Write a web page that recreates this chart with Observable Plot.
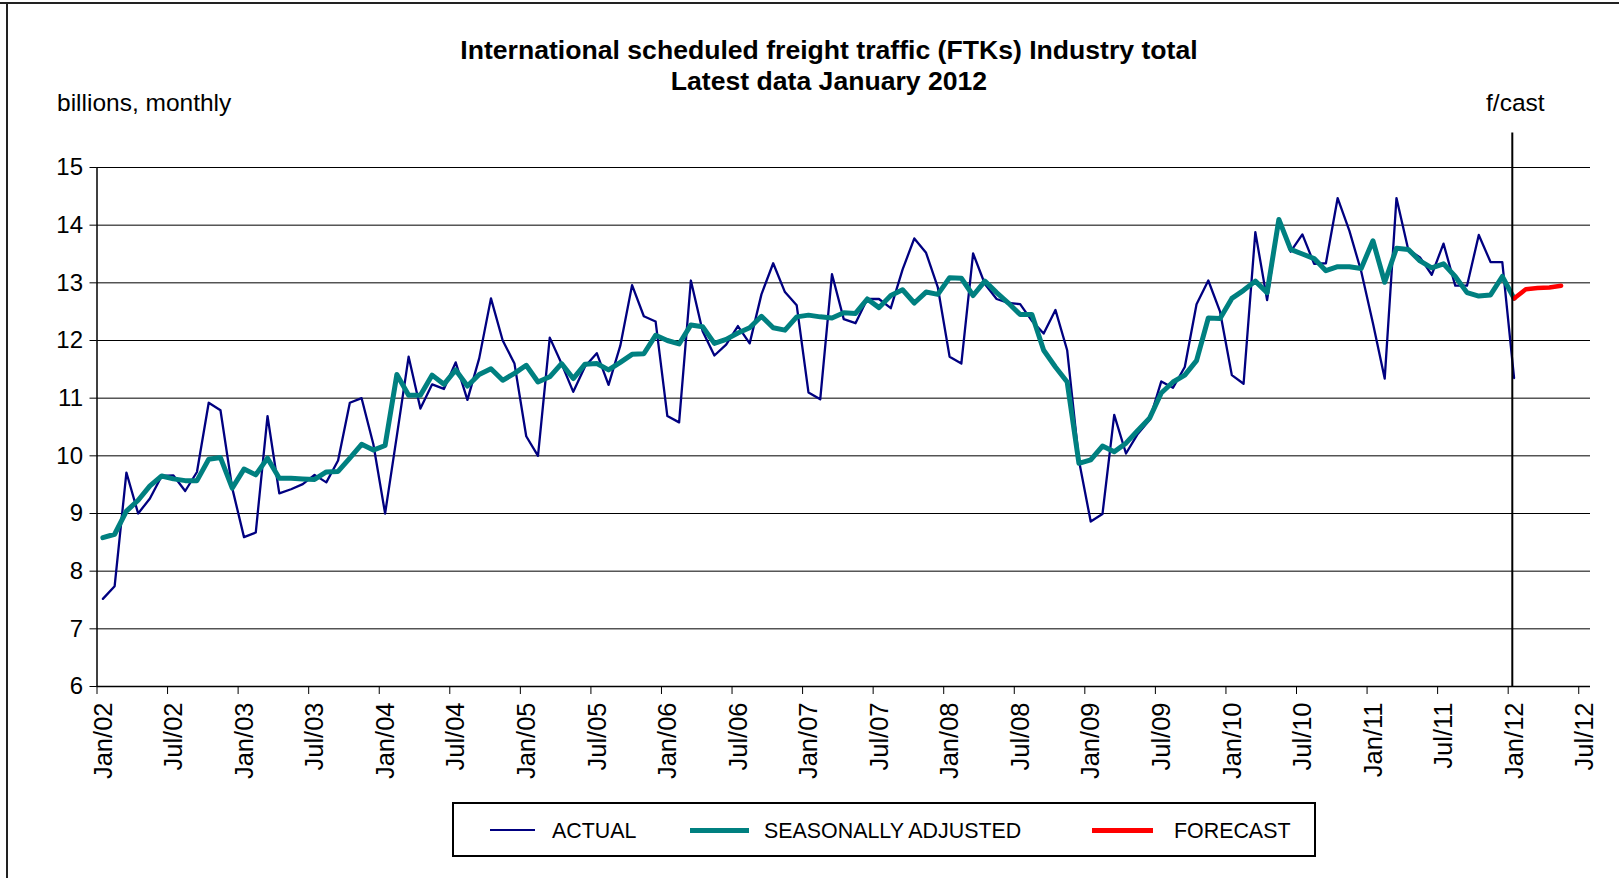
<!DOCTYPE html>
<html><head><meta charset="utf-8">
<script src="https://cdn.jsdelivr.net/npm/d3@7"></script>
<script src="https://cdn.jsdelivr.net/npm/@observablehq/plot@0.6"></script>
<style>
html,body{margin:0;padding:0;background:#fff;}
body{font-family:"Liberation Sans",Arial,Helvetica,sans-serif;color:#000;}
#wrap{position:relative;width:1619px;height:878px;overflow:hidden;background:#fff;}
#frameTop{position:absolute;left:0;top:2px;width:1619px;height:0;border-top:2px solid #222;}
#frameLeft{position:absolute;left:6px;top:2px;width:0;height:876px;border-left:2px solid #222;}
#title{position:absolute;left:329px;width:1000px;top:35px;text-align:center;font-weight:bold;font-size:26.6px;line-height:31px;}
#ylab{position:absolute;left:57px;top:88px;font-size:24.5px;line-height:30px;white-space:nowrap;}
#chart{position:absolute;left:0;top:88px;}
#legend{position:absolute;left:452px;top:802px;width:860px;height:51px;border:2px solid #000;background:#fff;}
.sw{position:absolute;top:26px;}
.lt{position:absolute;top:13px;font-size:21.4px;line-height:28px;white-space:nowrap;}
</style></head><body>
<div id="wrap">
  <div id="frameTop"></div><div id="frameLeft"></div>
  <div id="title"></div>
  <div id="ylab"></div>
  <div id="chart"></div>
  <div id="legend"></div>
</div>
<script>
// ---- data (billions of FTKs, monthly, Jan 2002 .. Jan 2012) ----
const titleLines = ["International scheduled freight traffic (FTKs) Industry total", "Latest data January 2012"];
const unitLabel = "billions, monthly";
const forecastLabel = "f/cast";
const seriesNames = ["ACTUAL", "SEASONALLY ADJUSTED", "FORECAST"];
const seriesColors = ["#000080", "#008080", "#ff0000"];

const actual = [
  7.52, 7.74, 9.71, 9.00, 9.26, 9.65, 9.66, 9.39, 9.72, 10.92, 10.79, 9.44,
  8.59, 8.67, 10.69, 9.35, 9.42, 9.51, 9.67, 9.54, 9.92, 10.92, 11.00, 10.20,
  9.00, 10.35, 11.72, 10.82, 11.24, 11.16, 11.62, 10.97, 11.69, 12.73, 12.00, 11.60,
  10.34, 10.00, 12.05, 11.60, 11.11, 11.55, 11.78, 11.23, 11.91, 12.96, 12.42, 12.33,
  10.69, 10.58, 13.04, 12.16, 11.74, 11.93, 12.25, 11.95, 12.80, 13.34, 12.84, 12.61,
  11.10, 10.98, 13.15, 12.37, 12.30, 12.72, 12.72, 12.56, 13.23, 13.77, 13.52, 12.92,
  11.72, 11.60, 13.51, 12.98, 12.72, 12.65, 12.63, 12.34, 12.12, 12.53, 11.83, 9.92,
  8.86, 8.99, 10.71, 10.04, 10.38, 10.62, 11.29, 11.18, 11.54, 12.63, 13.04, 12.50,
  11.40, 11.25, 13.88, 12.70, 14.10, 13.54, 13.84, 13.33, 13.34, 14.47, 13.90, 13.20,
  12.30, 11.34, 14.47, 13.58, 13.44, 13.14, 13.68, 12.95, 12.95, 13.83, 13.36, 13.36,
  11.35
];
const seasonallyAdjusted = [
  8.58, 8.64, 9.04, 9.23, 9.48, 9.65, 9.60, 9.57, 9.57, 9.94, 9.97, 9.44,
  9.77, 9.67, 9.96, 9.61, 9.61, 9.60, 9.59, 9.72, 9.73, 9.96, 10.20, 10.10,
  10.18, 11.41, 11.05, 11.05, 11.40, 11.24, 11.49, 11.21, 11.41, 11.51, 11.31, 11.43,
  11.57, 11.28, 11.37, 11.60, 11.34, 11.59, 11.60, 11.49, 11.62, 11.76, 11.77, 12.09,
  12.00, 11.94, 12.27, 12.24, 11.95, 12.02, 12.13, 12.22, 12.42, 12.22, 12.18, 12.41,
  12.44, 12.41, 12.39, 12.48, 12.47, 12.72, 12.57, 12.78, 12.88, 12.65, 12.84, 12.80,
  13.09, 13.08, 12.78, 13.03, 12.83, 12.65, 12.45, 12.45, 11.83, 11.54, 11.28, 9.87,
  9.93, 10.17, 10.07, 10.22, 10.44, 10.65, 11.09, 11.28, 11.40, 11.65, 12.39, 12.38,
  12.73, 12.87, 13.03, 12.83, 14.10, 13.58, 13.50, 13.42, 13.21, 13.28, 13.28, 13.25,
  13.73, 13.01, 13.60, 13.58, 13.38, 13.26, 13.33, 13.11, 12.83, 12.77, 12.79, 13.11,
  12.73
];
// forecast Jan 2012 .. May 2012
const forecast = [12.73, 12.89, 12.91, 12.92, 12.95];
const forecastStartIndex = 120; // month index of Jan 2012 (Jan 2002 = 0)

const tickLabels = ["Jan/02","Jul/02","Jan/03","Jul/03","Jan/04","Jul/04","Jan/05","Jul/05",
  "Jan/06","Jul/06","Jan/07","Jul/07","Jan/08","Jul/08","Jan/09","Jul/09","Jan/10","Jul/10",
  "Jan/11","Jul/11","Jan/12","Jul/12"];
const yTicks = [6, 7, 8, 9, 10, 11, 12, 13, 14, 15];

// ---- tables for the library ----
const actualRows = actual.map((v, i) => ({m: i + 0.5, v}));
const saRows = seasonallyAdjusted.map((v, i) => ({m: i + 0.5, v}));
const fcRows = forecast.map((v, i) => ({m: forecastStartIndex + i + 0.5, v}));
const xTickPos = tickLabels.map((_, i) => i * 6);
const fcastLinePos = forecastStartIndex + 0.35;

document.getElementById("title").innerHTML = titleLines.join("<br>");
document.getElementById("ylab").textContent = unitLabel;

const font = "Liberation Sans, Arial, Helvetica, sans-serif";
const chart = Plot.plot({
  width: 1619,
  height: 712,
  marginLeft: 96.5,
  marginRight: 29,
  marginTop: 79,
  marginBottom: 114,
  x: {type: "linear", domain: [0, 127]},
  y: {domain: [6, 15]},
  style: {fontFamily: font, fontSize: "24px", color: "#000", background: "transparent", overflow: "visible"},
  marks: [
    Plot.gridY(yTicks, {stroke: "#000", strokeOpacity: 1, strokeWidth: 1}),
    Plot.axisY(yTicks, {tickSize: 7, tickPadding: 7, fontSize: 24, stroke: "#000", strokeOpacity: 1, tickFormat: d => String(d), label: null}),
    Plot.axisX(xTickPos, {tickSize: 8, stroke: "#000", strokeOpacity: 1, tickFormat: () => "", label: null}),
    Plot.axisX(xTickPos, {tickSize: 0, tickPadding: 16, tickRotate: -90, dx: 6.5, fontSize: 25.5,
      tickFormat: d => tickLabels[Math.round(d / 6)], label: null}),
    Plot.ruleX([0], {stroke: "#000", strokeWidth: 1.5}),
    Plot.ruleY([6], {stroke: "#000", strokeWidth: 1.5}),
    Plot.line(actualRows, {x: "m", y: "v", stroke: seriesColors[0], strokeWidth: 2.3}),
    Plot.line(saRows, {x: "m", y: "v", stroke: seriesColors[1], strokeWidth: 5}),
    Plot.line(fcRows, {x: "m", y: "v", stroke: seriesColors[2], strokeWidth: 4.5}),
    Plot.ruleX([fcastLinePos], {y1: 6, y2: 15.6, stroke: "#000", strokeWidth: 2}),
    Plot.text([forecastLabel], {x: fcastLinePos, y: 16.12, dx: 3, text: d => d, fontSize: 24.5, fill: "#000", textAnchor: "middle"})
  ]
});
document.getElementById("chart").appendChild(chart);

// ---- legend ----
const legend = document.getElementById("legend");
const lgPos = [
  {sx: 36, sw: 45, sh: 2.5, tx: 98},
  {sx: 236, sw: 59, sh: 5, tx: 310},
  {sx: 638, sw: 61, sh: 5, tx: 720}
];
seriesNames.forEach((name, i) => {
  const p = lgPos[i];
  const s = document.createElement("div");
  s.className = "sw";
  s.style.left = p.sx + "px"; s.style.width = p.sw + "px";
  s.style.height = p.sh + "px"; s.style.marginTop = (-p.sh / 2) + "px";
  s.style.background = seriesColors[i];
  legend.appendChild(s);
  const t = document.createElement("div");
  t.className = "lt"; t.style.left = p.tx + "px"; t.textContent = name;
  legend.appendChild(t);
});
</script>
</body></html>
